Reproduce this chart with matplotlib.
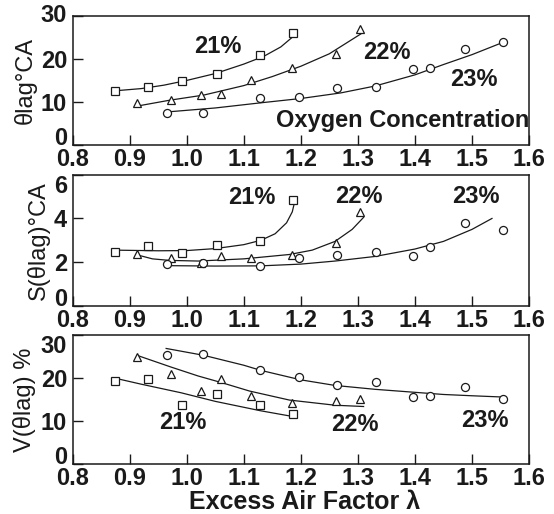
import matplotlib
matplotlib.use('Agg')
import matplotlib.pyplot as plt

plt.rcParams['font.family'] = ['Liberation Sans', 'DejaVu Sans']

# measured points, lambda vs value, for 21 / 22 / 23 % O2
lam21 = [0.874, 0.933, 0.991, 1.053, 1.129, 1.186]
lam22 = [0.913, 0.972, 1.025, 1.060, 1.112, 1.184, 1.262, 1.303]
lam23 = [0.965, 1.029, 1.128, 1.196, 1.264, 1.332, 1.396, 1.427, 1.488, 1.555]

lag21 = [12.6, 13.4, 14.8, 16.5, 20.8, 26.0]
lag22 = [9.7, 10.5, 11.7, 11.9, 15.1, 17.9, 21.2, 26.9]
lag23 = [7.4, 7.4, 10.9, 11.1, 13.3, 13.4, 17.7, 18.0, 22.2, 24.0]

s21 = [2.47, 2.74, 2.41, 2.77, 2.98, 4.86]
s22 = [2.36, 2.17, 1.98, 2.29, 2.21, 2.33, 2.86, 4.29]
s23 = [1.91, 1.94, 1.82, 2.17, 2.33, 2.48, 2.29, 2.71, 3.80, 3.47]

v21 = [19.4, 19.8, 13.8, 16.4, 13.8, 11.7]
v22 = [24.9, 21.0, 17.1, 19.8, 15.8, 14.2, 14.6, 15.2]
v23 = [25.3, 25.5, 22.0, 20.3, 18.5, 19.2, 15.5, 15.8, 17.9, 15.2]

# fitted curves as drawn in the original
fit_lag21_x = [0.875, 0.92, 0.96, 1.0, 1.05, 1.1, 1.135, 1.165, 1.19]
fit_lag21_y = [12.6, 13.1, 13.9, 15.0, 16.6, 18.8, 20.6, 22.8, 25.6]
fit_lag22_x = [0.92, 0.97, 1.03, 1.1, 1.15, 1.2, 1.25, 1.305]
fit_lag22_y = [9.2, 10.4, 11.6, 13.8, 15.9, 18.3, 21.2, 25.8]
fit_lag23_x = [0.968, 1.05, 1.13, 1.2, 1.27, 1.33, 1.4, 1.45, 1.5, 1.557]
fit_lag23_y = [7.7, 8.6, 9.8, 10.8, 12.1, 13.7, 16.3, 18.7, 21.0, 24.0]

fit_s21_x = [0.873, 0.95, 1.0, 1.05, 1.1, 1.13, 1.155, 1.175, 1.185, 1.19]
fit_s21_y = [2.55, 2.52, 2.53, 2.62, 2.8, 3.0, 3.3, 3.8, 4.3, 4.85]
fit_s22_x = [0.915, 0.94, 0.97, 1.02, 1.1, 1.18, 1.22, 1.26, 1.29, 1.31]
fit_s22_y = [2.32, 2.15, 2.08, 2.05, 2.15, 2.35, 2.55, 2.95, 3.5, 4.05]
fit_s23_x = [0.964, 1.05, 1.13, 1.2, 1.26, 1.33, 1.4, 1.45, 1.5, 1.535]
fit_s23_y = [1.84, 1.82, 1.83, 1.91, 2.05, 2.26, 2.6, 2.95, 3.5, 4.0]

fit_v21_x = [0.874, 0.92, 0.99, 1.05, 1.13, 1.185]
fit_v21_y = [20.0, 18.6, 16.6, 14.6, 12.4, 11.1]
fit_v22_x = [0.913, 0.972, 1.02, 1.06, 1.11, 1.18, 1.26, 1.31]
fit_v22_y = [25.3, 22.6, 20.5, 19.0, 17.0, 14.9, 13.7, 13.4]
fit_v23_x = [0.964, 1.03, 1.1, 1.13, 1.2, 1.26, 1.33, 1.4, 1.45, 1.5, 1.555]
fit_v23_y = [26.9, 25.3, 23.0, 21.8, 19.6, 18.3, 17.4, 16.7, 16.2, 15.9, 15.6]

xticks = [0.8, 0.9, 1.0, 1.1, 1.2, 1.3, 1.4, 1.5, 1.6]

ink = '#1a1a1a'
fs = 17
fig = plt.figure(figsize=(5.54, 5.14), dpi=100)
ax1 = fig.add_axes([0.131, 0.718, 0.824, 0.251])
ax2 = fig.add_axes([0.131, 0.405, 0.824, 0.255])
ax3 = fig.add_axes([0.131, 0.097, 0.824, 0.251])

panels = [
    (ax1, [lag21, lag22, lag23], [(fit_lag21_x, fit_lag21_y), (fit_lag22_x, fit_lag22_y), (fit_lag23_x, fit_lag23_y)],
     [0, 30], [0, 10, 20, 30], '\u03b8lag\u00b0CA',
     [(1.055, 22.8), (1.35, 21.6), (1.504, 15.3)], 'center'),
    (ax2, [s21, s22, s23], [(fit_s21_x, fit_s21_y), (fit_s22_x, fit_s22_y), (fit_s23_x, fit_s23_y)],
     [0, 6], [0, 2, 4, 6], 'S(\u03b8lag)\u00b0CA',
     [(1.114, 4.94), (1.301, 5.0), (1.506, 4.99)], 'top'),
    (ax3, [v21, v22, v23], [(fit_v21_x, fit_v21_y), (fit_v22_x, fit_v22_y), (fit_v23_x, fit_v23_y)],
     [0, 30], [0, 10, 20, 30], 'V(\u03b8lag) %',
     [(0.994, 9.7), (1.295, 9.2), (1.522, 10.2)], 'top'),
]

markers = ['s', '^', 'o']
msizes = [5.3, 6.2, 5.8]
lams = [lam21, lam22, lam23]
labels = ['21%', '22%', '23%']

for ax, ys, fits, ylim, yticks, ylabel, label_pos, top_va in panels:
    for lam, y, (fx, fy), m, ms in zip(lams, ys, fits, markers, msizes):
        ax.plot(fx, fy, color=ink, lw=0.9, zorder=2)
        ax.plot(lam, y, m, mfc='white', mec=ink, mew=0.9, ms=ms, zorder=3)
    for txt, (lx, ly) in zip(labels, label_pos):
        ax.text(lx, ly, txt, fontsize=fs, fontweight='bold', ha='center', va='center', color=ink)
    ax.set_xlim(0.8, 1.6)
    ax.set_ylim(ylim)
    ax.set_xticks(xticks)
    ax.set_xticklabels(['%.1f' % t for t in xticks], fontweight='bold')
    ax.set_yticks(yticks)
    ax.set_yticklabels([str(t) for t in yticks], fontweight='bold')
    ax.tick_params(direction='in', length=7, width=1.0, labelsize=fs, colors=ink,
                   top=False, right=False)
    ax.tick_params(axis='x', pad=2)
    ax.tick_params(axis='y', pad=4)
    ax.get_yticklabels()[0].set_verticalalignment('baseline')
    ax.get_yticklabels()[-1].set_verticalalignment(top_va)
    ax.set_ylabel(ylabel, fontsize=fs, color=ink, labelpad=3)
    for sp in ax.spines.values():
        sp.set_linewidth(1.1)
        sp.set_color(ink)

ax1.text(1.6, 5.6, 'Oxygen Concentration', fontsize=fs, fontweight='bold',
         ha='right', va='center', color=ink)
fig.text(0.55, 0.0, 'Excess Air Factor \u03bb', fontsize=18, fontweight='bold',
         ha='center', va='bottom', color=ink)

fig.savefig('out.png', dpi=100)
